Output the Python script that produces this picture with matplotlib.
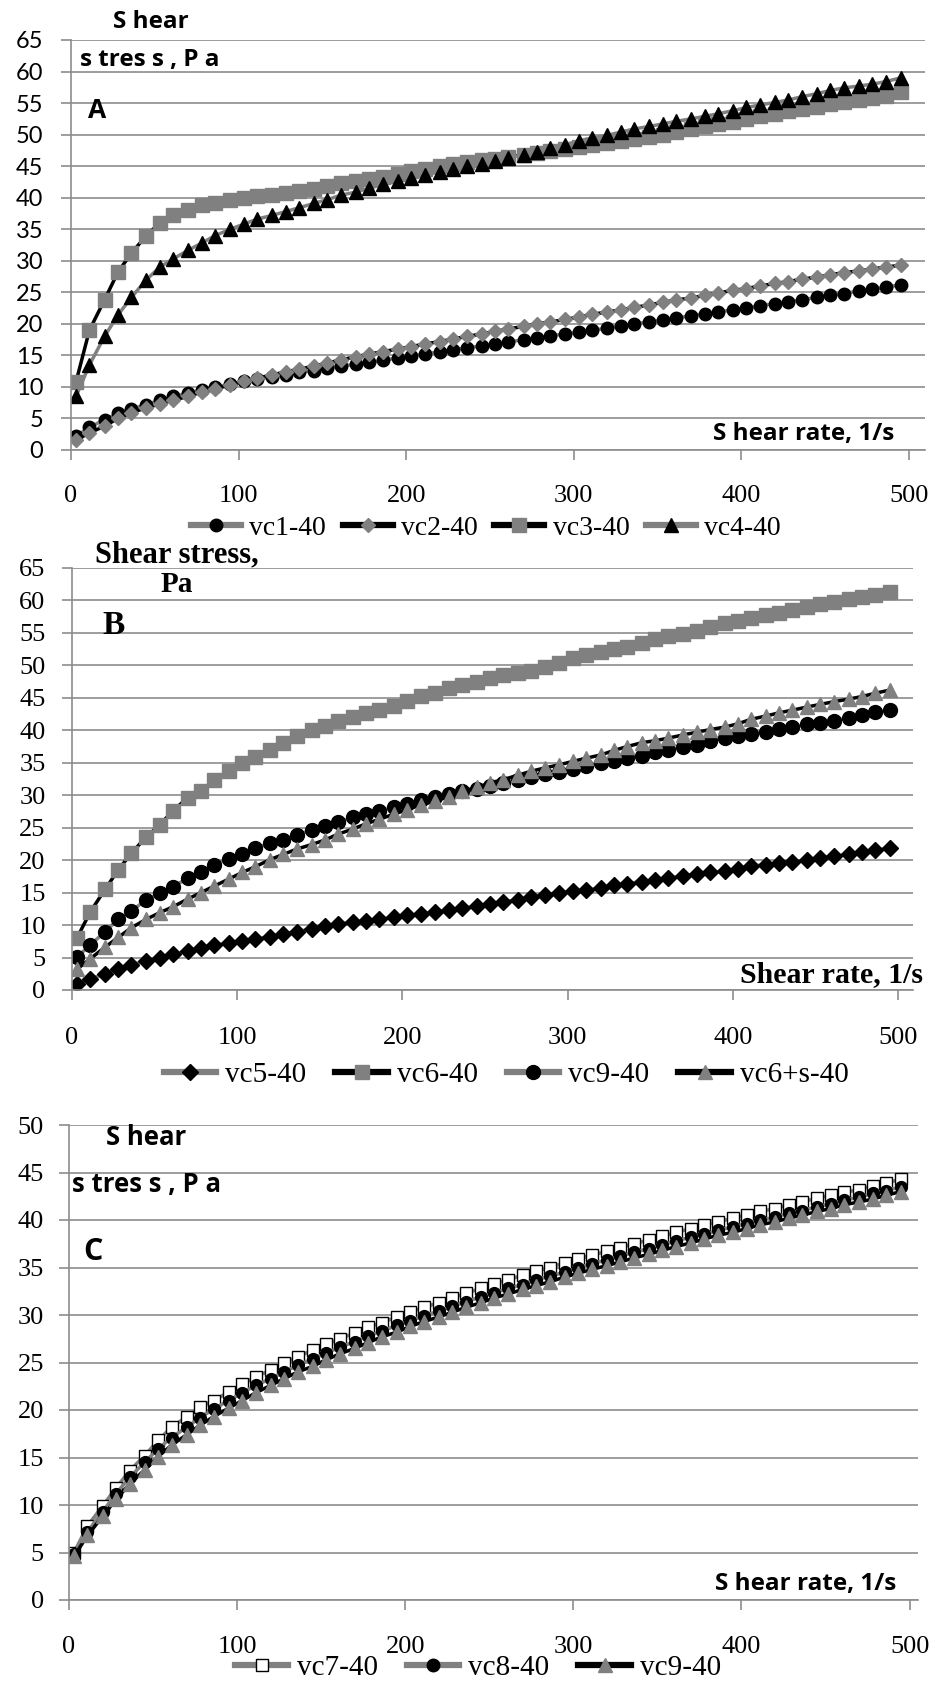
import matplotlib
matplotlib.use("Agg")
import matplotlib.pyplot as plt
from matplotlib.lines import Line2D

# shear rate, 1/s (same steps for every sample)
rate = [3, 11, 20, 28, 36, 45, 53, 61, 70, 78, 86, 95, 103, 111, 120, 128, 136, 145, 153, 161,
        170, 178, 186, 195, 203, 211, 220, 228, 236, 245, 253, 261, 270, 278, 286, 295, 303, 311, 320, 328,
        336, 345, 353, 361, 370, 378, 386, 395, 403, 411, 420, 428, 436, 445, 453, 461, 470, 478, 486, 495]

# panel A
vc1 = [2.2, 3.6, 4.8, 5.8, 6.5, 7.2, 7.9, 8.5, 9.0, 9.5, 10.0, 10.4, 10.9, 11.2, 11.6, 11.9, 12.3, 12.6, 13.0, 13.3,
       13.6, 13.9, 14.2, 14.6, 14.9, 15.2, 15.6, 15.9, 16.2, 16.5, 16.8, 17.1, 17.5, 17.8, 18.1, 18.4, 18.7, 19.0, 19.3, 19.7,
       20.0, 20.3, 20.6, 20.9, 21.3, 21.6, 21.9, 22.2, 22.5, 22.9, 23.2, 23.5, 23.8, 24.2, 24.5, 24.8, 25.2, 25.5, 25.8, 26.2]
vc2 = [1.6, 2.7, 3.8, 5.0, 5.9, 6.7, 7.3, 7.9, 8.5, 9.2, 9.7, 10.3, 10.9, 11.4, 11.9, 12.4, 12.8, 13.3, 13.8, 14.3,
       14.8, 15.2, 15.6, 16.0, 16.4, 16.8, 17.2, 17.6, 18.0, 18.4, 18.8, 19.2, 19.6, 20.0, 20.3, 20.7, 21.1, 21.5, 21.9, 22.2,
       22.6, 23.0, 23.4, 23.8, 24.1, 24.5, 24.9, 25.3, 25.6, 26.0, 26.4, 26.7, 27.1, 27.4, 27.8, 28.1, 28.4, 28.7, 29.0, 29.3]
vc3 = [10.8, 19.0, 23.8, 28.2, 31.2, 34.0, 36.0, 37.2, 38.0, 38.8, 39.2, 39.6, 39.9, 40.2, 40.5, 40.8, 41.1, 41.4, 41.9, 42.3,
       42.6, 42.9, 43.3, 43.8, 44.2, 44.6, 45.0, 45.4, 45.7, 46.0, 46.2, 46.5, 46.8, 47.1, 47.4, 47.7, 48.1, 48.4, 48.7, 49.0,
       49.3, 49.6, 50.0, 50.4, 50.9, 51.3, 51.7, 52.0, 52.4, 52.9, 53.3, 53.7, 54.0, 54.4, 54.8, 55.2, 55.5, 55.8, 56.2, 56.8]
vc4 = [8.5, 13.5, 18.0, 21.4, 24.2, 27.0, 29.0, 30.3, 31.7, 32.8, 34.0, 35.0, 35.8, 36.6, 37.2, 37.8, 38.4, 39.1, 39.7, 40.4,
       40.9, 41.5, 42.1, 42.6, 43.1, 43.6, 44.1, 44.5, 45.0, 45.4, 45.8, 46.3, 46.8, 47.3, 47.8, 48.4, 49.0, 49.5, 49.9, 50.4,
       50.9, 51.3, 51.7, 52.1, 52.5, 52.9, 53.3, 53.8, 54.3, 54.7, 55.1, 55.5, 56.0, 56.5, 57.0, 57.4, 57.7, 58.0, 58.4, 59.0]

# panel B
vc5 = [1.0, 1.7, 2.5, 3.3, 3.9, 4.5, 5.0, 5.5, 6.0, 6.5, 6.9, 7.2, 7.6, 7.9, 8.2, 8.6, 9.0, 9.4, 9.8, 10.2,
       10.4, 10.6, 10.9, 11.2, 11.5, 11.7, 12.0, 12.3, 12.6, 12.9, 13.3, 13.6, 13.9, 14.3, 14.7, 15.0, 15.2, 15.4, 15.7, 16.1,
       16.4, 16.7, 16.9, 17.2, 17.6, 17.9, 18.1, 18.3, 18.7, 19.1, 19.3, 19.5, 19.7, 20.1, 20.4, 20.6, 20.9, 21.2, 21.5, 21.9]
vc6 = [8.0, 12.0, 15.5, 18.5, 21.1, 23.6, 25.4, 27.6, 29.6, 30.7, 32.3, 33.7, 35.0, 35.9, 37.0, 38.0, 39.1, 40.0, 40.7, 41.5,
       42.1, 42.7, 43.1, 43.7, 44.5, 45.3, 45.8, 46.5, 47.0, 47.5, 48.0, 48.5, 48.8, 49.2, 49.8, 50.4, 51.1, 51.6, 52.1, 52.5,
       52.9, 53.5, 54.0, 54.5, 54.9, 55.3, 55.9, 56.5, 56.8, 57.3, 57.7, 58.1, 58.5, 59.0, 59.4, 59.8, 60.2, 60.6, 60.9, 61.3]
vc9b = [5.1, 6.9, 9.0, 10.9, 12.2, 13.9, 14.9, 15.9, 17.2, 18.2, 19.3, 20.2, 21.0, 21.8, 22.6, 23.1, 23.9, 24.6, 25.2, 25.8,
        26.6, 27.1, 27.5, 28.2, 28.7, 29.2, 29.7, 30.2, 30.6, 31.0, 31.4, 31.9, 32.4, 32.8, 33.2, 33.6, 34.1, 34.5, 34.9, 35.3,
        35.7, 36.1, 36.6, 37.0, 37.4, 37.8, 38.3, 38.8, 39.1, 39.4, 39.8, 40.2, 40.5, 40.9, 41.2, 41.5, 41.9, 42.4, 42.8, 43.1]
vc6s = [3.2, 4.8, 6.6, 8.1, 9.6, 10.9, 11.9, 12.8, 14.0, 15.0, 16.0, 17.1, 18.1, 19.0, 20.1, 20.9, 21.7, 22.4, 23.1, 24.0,
        24.8, 25.6, 26.3, 27.1, 27.8, 28.5, 29.1, 29.8, 30.6, 31.2, 31.9, 32.4, 33.1, 33.7, 34.2, 34.7, 35.2, 35.7, 36.2, 36.9,
        37.5, 38.1, 38.4, 38.8, 39.3, 39.7, 40.1, 40.5, 41.0, 41.7, 42.2, 42.7, 43.1, 43.6, 44.0, 44.4, 44.8, 45.2, 45.7, 46.2]

# panel C
vc7 = [5.0, 7.8, 9.9, 11.8, 13.6, 15.2, 16.8, 18.2, 19.3, 20.3, 21.0, 21.9, 22.7, 23.5, 24.2, 24.9, 25.6, 26.3, 26.9, 27.5,
       28.1, 28.7, 29.2, 29.8, 30.3, 30.8, 31.3, 31.8, 32.3, 32.8, 33.3, 33.7, 34.2, 34.6, 35.0, 35.5, 35.9, 36.3, 36.7, 37.1,
       37.5, 37.9, 38.3, 38.7, 39.1, 39.5, 39.8, 40.2, 40.5, 40.9, 41.2, 41.6, 41.9, 42.3, 42.6, 42.9, 43.2, 43.6, 43.9, 44.3]
vc8 = [4.8, 7.2, 9.3, 11.2, 12.9, 14.5, 15.9, 17.1, 18.2, 19.2, 20.1, 21.0, 21.8, 22.6, 23.3, 24.0, 24.7, 25.4, 26.0, 26.6,
       27.2, 27.8, 28.3, 28.9, 29.4, 29.9, 30.4, 30.9, 31.4, 31.9, 32.3, 32.8, 33.2, 33.7, 34.1, 34.5, 35.0, 35.4, 35.8, 36.2,
       36.6, 37.0, 37.4, 37.8, 38.2, 38.5, 38.9, 39.3, 39.6, 40.0, 40.3, 40.7, 41.0, 41.4, 41.7, 42.1, 42.4, 42.8, 43.1, 43.5]
vc9c = [4.6, 6.8, 8.8, 10.6, 12.2, 13.7, 15.1, 16.3, 17.4, 18.4, 19.3, 20.2, 21.0, 21.8, 22.6, 23.3, 24.0, 24.6, 25.3, 25.9,
        26.5, 27.1, 27.7, 28.2, 28.8, 29.3, 29.8, 30.3, 30.8, 31.3, 31.8, 32.2, 32.7, 33.1, 33.5, 34.0, 34.4, 34.8, 35.2, 35.6,
        36.0, 36.4, 36.8, 37.2, 37.6, 38.0, 38.4, 38.7, 39.1, 39.5, 39.8, 40.2, 40.5, 40.9, 41.2, 41.6, 41.9, 42.2, 42.6, 43.0]

x_ticks = [0, 100, 200, 300, 400, 500]

GRAY = "#808080"
GRID = "#8c8c8c"
SERIF = "Liberation Serif"
SANS = "Lato"
SANS_B = "Open Sans"

W, H = 935, 1688
fig = plt.figure(figsize=(W / 100, H / 100), dpi=100)


def setup(ax, ymax, xmax, ysans, xpad, ypad, ysize):
    ax.set_xlim(0, xmax)
    ax.set_ylim(0, ymax)
    ax.set_yticks(range(0, ymax + 1, 5))
    ax.set_xticks(x_ticks)
    ax.yaxis.grid(True, color=GRID, lw=1.2)
    ax.set_axisbelow(True)
    for s in ["top", "right"]:
        ax.spines[s].set_visible(False)
    for s in ["left", "bottom"]:
        ax.spines[s].set_color(GRID)
        ax.spines[s].set_linewidth(1.2)
    ax.tick_params(axis="y", length=7, width=1.2, color=GRID, pad=ypad, labelsize=ysize)
    ax.tick_params(axis="x", length=7, width=1.2, color=GRID, pad=xpad, labelsize=19)
    for lab in ax.get_xticklabels():
        lab.set_fontfamily(SERIF)
    for lab in ax.get_yticklabels():
        lab.set_fontfamily(SANS if ysans else SERIF)


def draw(ax, y, line_c, marker, face, ms, edge=None):
    ax.plot(rate, y, color=line_c, lw=2.5, marker=marker, ms=ms,
            markerfacecolor=face, markeredgecolor=edge if edge else face, markeredgewidth=1.0)


def leg(ax, handles, labels, cx, cy, size, colsp):
    ax.legend(handles, labels, loc="center", bbox_to_anchor=(cx, cy), bbox_transform=fig.transFigure,
              ncol=len(labels), frameon=False, handlelength=1.8, handletextpad=0.3, columnspacing=colsp,
              borderpad=0, prop={"family": SERIF, "size": size})


def handle(line_c, marker, face, ms, edge=None):
    return Line2D([], [], color=line_c, lw=4.5, marker=marker, ms=ms,
                  markerfacecolor=face, markeredgecolor=edge if edge else face)


def label(x, y, s, family, size, ha="center"):
    fig.text(x / W, 1 - y / H, s, family=family, weight="bold", size=size, ha=ha, va="baseline")


# ---- A ----
axA = fig.add_axes([71 / W, 1 - 450 / H, 854 / W, 410 / H])
setup(axA, 65, 509.5, True, 18, 13, 17)
draw(axA, vc1, GRAY, "o", "black", 9)
draw(axA, vc2, "black", "D", GRAY, 7.5)
draw(axA, vc3, "black", "s", GRAY, 9.5)
draw(axA, vc4, GRAY, "^", "black", 10)
leg(axA, [handle(GRAY, "o", "black", 9), handle("black", "D", GRAY, 7.5),
          handle("black", "s", GRAY, 9.5), handle(GRAY, "^", "black", 10)],
    ["vc1-40", "vc2-40", "vc3-40", "vc4-40"], 486 / W, 1 - 528 / H, 20, 0.6)
label(151, 28, "S hear", SANS_B, 17.5)
label(150, 66, "s tres s , P a", SANS_B, 17.5)
label(97, 118, "A", SANS_B, 19)
label(804, 440, "S hear rate, 1/s", SANS_B, 17.5)

# ---- B ----
axB = fig.add_axes([72 / W, 1 - 990 / H, 841 / W, 422 / H])
setup(axB, 65, 509, False, 20, 12, 19)
draw(axB, vc5, GRAY, "D", "black", 8)
draw(axB, vc6, "black", "s", GRAY, 10)
draw(axB, vc9b, GRAY, "o", "black", 10)
draw(axB, vc6s, "black", "^", GRAY, 10)
leg(axB, [handle(GRAY, "D", "black", 8), handle("black", "s", GRAY, 10),
          handle(GRAY, "o", "black", 10), handle("black", "^", GRAY, 10)],
    ["vc5-40", "vc6-40", "vc9-40", "vc6+s-40"], 506 / W, 1 - 1075 / H, 21, 1.0)
label(177, 562, "Shear stress,", SERIF, 22)
label(177, 592, "Pa", SERIF, 21)
label(114, 634, "B", SERIF, 24)
label(832, 982, "Shear rate, 1/s", SERIF, 21.5)

# ---- C ----
axC = fig.add_axes([69 / W, 1 - 1600 / H, 849 / W, 475 / H])
setup(axC, 50, 505, False, 19, 11, 19)
draw(axC, vc7, GRAY, "s", "white", 8, edge="black")
draw(axC, vc8, GRAY, "o", "black", 8.5)
draw(axC, vc9c, "black", "^", GRAY, 9.5)
leg(axC, [handle(GRAY, "s", "white", 9, edge="black"), handle(GRAY, "o", "black", 9),
          handle("black", "^", GRAY, 10)],
    ["vc7-40", "vc8-40", "vc9-40"], 478 / W, 1 - 1668 / H, 21, 1.0)
label(146, 1145, "S hear", SANS_B, 18.5)
label(146, 1192, "s tres s , P a", SANS_B, 18.5)
label(93, 1260, "C", SANS_B, 22)
label(806, 1590, "S hear rate, 1/s", SANS_B, 17.5)

fig.savefig("out.png", dpi=100)
